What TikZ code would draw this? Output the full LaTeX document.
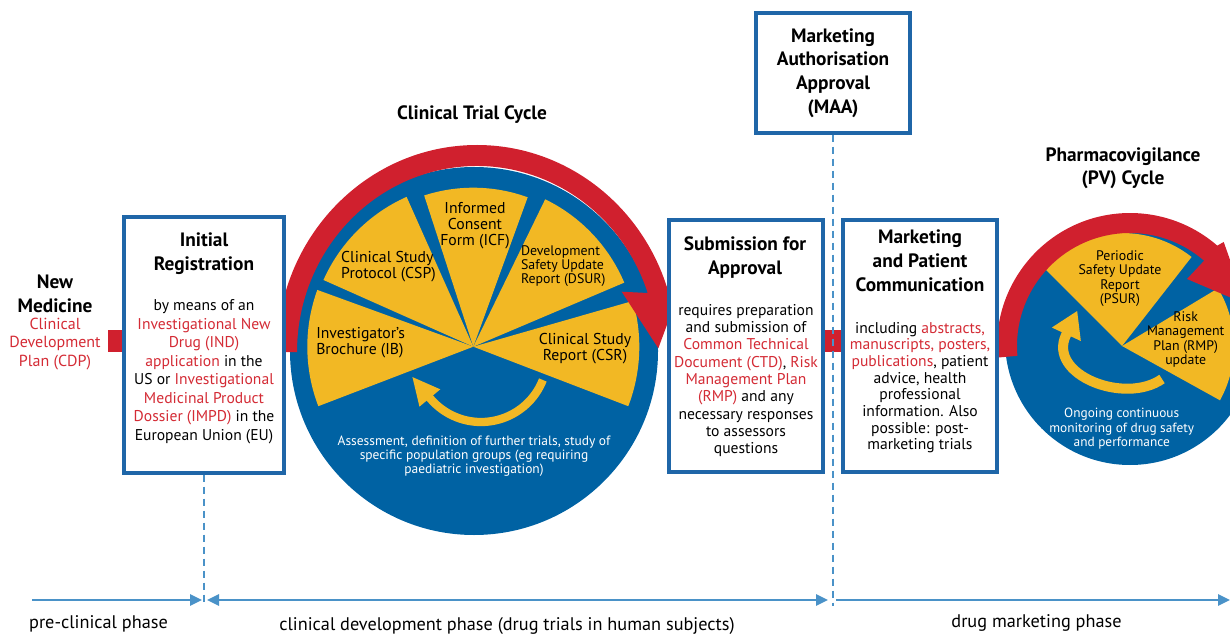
\documentclass[tikz,border=0pt]{standalone}
\usepackage{fontspec}
\setmainfont{PT Sans}
\usepackage{tikz}
\usetikzlibrary{arrows.meta, positioning, calc}
\definecolor{boxblue}{HTML}{1F66A8}
\definecolor{cycblue}{HTML}{0062A3}
\definecolor{cycyellow}{HTML}{F2B824}
\definecolor{cycred}{HTML}{D0202E}
\definecolor{txtred}{HTML}{D42B35}
\definecolor{axisblue}{HTML}{4A92C8}
\newcommand{\yslice}[4]{\fill[cycyellow] (#1) -- ++(#2:#4) arc[start angle=#2, end angle=#3, radius=#4] -- cycle;}
\newcommand{\rd}[1]{\textcolor{txtred}{#1}}

\begin{document}
\begin{tikzpicture}[x=0.75pt, y=-0.75pt,
        box/.style={rectangle, draw=boxblue, line width=2.3pt, fill=white, inner sep=0pt},
        title/.style={font=\fontsize{14.5}{18}\selectfont\bfseries, align=center},
        body/.style={font=\fontsize{11.7}{13.5}\selectfont, align=center},
        slice/.style={font=\fontsize{11.8}{12}\selectfont, align=center, inner sep=0pt},
        small/.style={font=\fontsize{10.4}{10.7}\selectfont, align=center, inner sep=0pt},
        redband/.style={draw=cycred, line width=16.5pt},
        yarrow/.style={draw=cycyellow},
        axis/.style={draw=axisblue, line width=2pt, >={Triangle[length=9pt, width=8.25pt]}},
        divider/.style={draw=axisblue, line width=1.7pt, dash pattern=on 5.25pt off 3.75pt},
        phase/.style={font=\fontsize{13.7}{15}\selectfont}
    ]
        \useasboundingbox (0,0) rectangle (1230,634);
        \clip (0,0) rectangle (1230,634);

        % clinical trial cycle
        \fill[cycblue] (474,351) circle[radius=184];
        \coordinate (ctr) at (473.3,346.7);
        \yslice{ctr}{-16}{21}{166}
        \yslice{ctr}{-64}{-23}{164}
        \yslice{ctr}{-108}{-70}{159}
        \yslice{ctr}{-156}{-114}{164}
        \yslice{ctr}{159}{200}{166}
        \fill[cycred] (277,352) arc[start angle=180, end angle=341.5, x radius=200, y radius=207]
            -- (681.7,285) -- (658.3,348.3) -- (621.7,291.7) -- (647.7,293)
            arc[start angle=341.5, end angle=180, x radius=180, y radius=186] -- cycle;
        \draw[yarrow, line width=6.2pt, -{Triangle[length=21pt, width=18.6pt]}]
            (481,355.5) ++(21.6:66.5) arc[start angle=21.6, end angle=140.3, radius=66.5] -- ++(-17.9,-21.5);

        \node[slice, align=left, anchor=west] (ib) at (316,343) {Investigator's\\Brochure (IB)};
        \node[slice, align=left] (csp) at (388.5,266.7) {Clinical Study\\Protocol (CSP)};
        \node[slice] (icf) at (475,226) {Informed\\Consent\\Form (ICF)};
        \node[small, align=left] (dsur) at (563.3,266) {Development\\Safety Update\\Report (DSUR)};
        \node[slice] (csr) at (585,348.7) {Clinical Study\\Report (CSR)};
        \node[small, text=white, font=\fontsize{10.1}{10.7}\selectfont] (assess) at (474,456)
            {Assessment, definition of further trials, study of\\specific population groups (eg requiring\\paediatric investigation)};
        \node[title] (ctc) at (472,115) {Clinical Trial Cycle};

        % pharmacovigilance cycle
        \fill[cycblue] (1130,340) circle[radius=125];
        \coordinate (pvc) at (1122,346);
        \yslice{pvc}{-135}{-52}{113}
        \yslice{pvc}{-31}{29}{112}
        \fill[cycred] (997.5,357.6) arc[start angle=175, end angle=311, radius=133]
            -- (1223.7,242) -- (1245.6,304) -- (1187,279) -- (1204.1,260.7)
            arc[start angle=311, end angle=175, radius=113] -- cycle;
        \draw[yarrow, line width=7.5pt, -{Triangle[length=19.5pt, width=22.5pt]}]
            (1162,379) .. controls (1125,405) and (1047,375) .. (1066,335) -- ++(11.3,-24.3);

        \node[small] (psur) at (1120,278.7) {Periodic\\Safety Update\\Report\\(PSUR)};
        \node[small] (rmp) at (1185.7,339.5) {Risk\\Management\\Plan (RMP)\\update};
        \node[small, text=white, font=\fontsize{10}{11}\selectfont] (ongoing) at (1121.7,428.7) {Ongoing continuous\\monitoring of drug safety\\and performance};
        \node[title, font=\fontsize{14.5}{17.5}\selectfont\bfseries] (pvt) at (1123,168.3) {Pharmacovigilance\\(PV) Cycle};

        % boxes
        \coordinate (cdpend) at (108,341);
        \node[box, minimum width=120pt, minimum height=192pt] (init) at (204,345) {};
        \node[box, minimum width=115.5pt, minimum height=189pt] (sub) at (746,346) {};
        \node[box, minimum width=115.5pt, minimum height=189pt] (mkt) at (920,346) {};
        \draw[redband] (cdpend) -- (init.west |- cdpend);
        \draw[redband] (sub.east |- cdpend) -- (mkt.west |- cdpend);
        \node[box, minimum width=115.5pt, minimum height=90pt, title, font=\fontsize{14.5}{17.8}\selectfont\bfseries] (maa) at (833,73)
            {Marketing\\Authorisation\\Approval\\(MAA)};

        \node[title, font=\fontsize{14.5}{18.2}\selectfont\bfseries] (newmed) at (55,293.8) {New\\Medicine};
        \node[body, text=txtred, font=\fontsize{12}{14}\selectfont] (cdp) at (55,344) {Clinical\\Development\\Plan (CDP)};

        \node[title] (initT) at (204,253.3) {Initial\\Registration};
        \node[body, font=\fontsize{11.7}{13.9}\selectfont] (initB) at (204,371.7)
            {by means of an\\\rd{Investigational New}\\\rd{Drug (IND)}\\\rd{application} in the\\US or \rd{Investigational}\\\rd{Medicinal Product}\\\rd{Dossier (IMPD)} in the\\European Union (EU)};

        \node[title] (subT) at (745,258) {Submission for\\Approval};
        \node[body, font=\fontsize{11.7}{13}\selectfont] (subB) at (746,380.5)
            {requires preparation\\and submission of\\\rd{Common Technical}\\\rd{Document (CTD)}, \rd{Risk}\\\rd{Management Plan}\\\rd{(RMP)} and any\\necessary responses\\to assessors\\questions};

        \node[title] (mktT) at (920,261) {Marketing\\and Patient\\Communication};
        \node[body, font=\fontsize{11.7}{12.5}\selectfont] (mktB) at (920,387.5)
            {including \rd{abstracts,}\\\rd{manuscripts, posters,}\\\rd{publications}, patient\\advice, health\\professional\\information. Also\\possible: post-\\marketing trials};

        % phases
        \coordinate (ax0) at (32,600);
        \coordinate (ax1) at (202,600);
        \coordinate (ax2) at (207,600);
        \coordinate (ax3) at (828,600);
        \coordinate (ax4) at (836,600);
        \coordinate (ax5) at (1230,600);
        \draw[divider] (init.south) -- (init.south |- 0,606);
        \draw[divider] (maa.south) -- (maa.south |- 0,606);
        \draw[axis, ->] (ax0) -- (ax1);
        \draw[axis, <->] (ax2) -- (ax3);
        \draw[axis, ->] (ax4) -- (ax5);

        \node[phase] (pre) at (98.5,624) {pre-clinical phase};
        \node[phase] (cdev) at (507,626) {clinical development phase (drug trials in human subjects)};
        \node[phase] (mark) at (1036.5,623) {drug marketing phase};
    \end{tikzpicture}
\end{document}
